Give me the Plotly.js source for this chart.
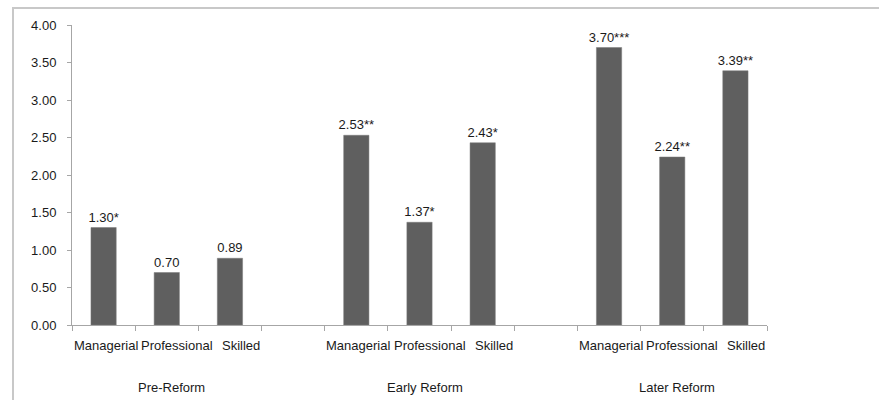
<!DOCTYPE html>
<html>
<head>
<meta charset="utf-8">
<script src="https://cdn.plot.ly/plotly-3.0.1.min.js"></script>
<style>
html,body{margin:0;padding:0;background:#fff;}
#wrap{position:relative;width:879px;height:400px;overflow:hidden;}
#chart{position:absolute;left:0;top:0;width:879px;height:400px;}
#frame{position:absolute;left:12px;top:7px;width:900px;height:420px;border-left:2px solid #c8c8c8;border-top:2px solid #c8c8c8;pointer-events:none;}
</style>
</head>
<body>
<div id="wrap"><div id="chart"></div><div id="frame"></div></div>
<script>
const groups = ["Pre-Reform", "Early Reform", "Later Reform"];
const categories = ["Managerial", "Professional", "Skilled"];
const preReform = [1.30, 0.70, 0.89];
const earlyReform = [2.53, 1.37, 2.43];
const laterReform = [3.70, 2.24, 3.39];
const significance = [["*", "", ""], ["**", "*", "*"], ["***", "**", "**"]];
const yTicks = [0, 0.5, 1, 1.5, 2, 2.5, 3, 3.5, 4];

const seriesByGroup = [preReform, earlyReform, laterReform];
const slotsPerGroup = categories.length + 1;
const nSlots = groups.length * slotsPerGroup - 1;

const xs = [], ys = [], texts = [];
seriesByGroup.forEach((vals, g) => {
  vals.forEach((v, c) => {
    xs.push(g * slotsPerGroup + c);
    ys.push(v);
    texts.push(v.toFixed(2) + significance[g][c]);
  });
});

const FONT = "Liberation Sans, Arial, sans-serif";
const catShift = [2, 10, 11];

const annotations = [];
groups.forEach((gName, g) => {
  categories.forEach((cName, c) => {
    annotations.push({
      x: g * slotsPerGroup + c, y: 0, xref: "x", yref: "paper",
      text: cName, showarrow: false, xanchor: "center", yanchor: "middle",
      yshift: -20, xshift: catShift[c],
      font: {family: FONT, size: 13, color: "#1a1a1a"}
    });
  });
  annotations.push({
    x: g * slotsPerGroup + (categories.length - 1) / 2, y: 0, xref: "x", yref: "paper",
    text: gName, showarrow: false, xanchor: "center", yanchor: "middle",
    yshift: -62, xshift: 5,
    font: {family: FONT, size: 13, color: "#1a1a1a"}
  });
});

const boundaries = [];
for (let i = 0; i <= nSlots; i++) boundaries.push(i - 0.5);

const trace = {
  type: "bar", x: xs, y: ys, text: texts,
  textposition: "outside", cliponaxis: false, constraintext: "none",
  textfont: {family: FONT, size: 13, color: "#1a1a1a"},
  marker: {color: "#5f5f5f", line: {color: "#7a7a7a", width: 0.5}},
  width: 0.4, hoverinfo: "none"
};

const layout = {
  width: 879, height: 400,
  margin: {l: 72, r: 112, t: 25, b: 75, pad: 0},
  paper_bgcolor: "#fff", plot_bgcolor: "#fff",
  showlegend: false,
  xaxis: {
    range: [-0.5, nSlots - 0.5], tickmode: "array", tickvals: boundaries,
    ticktext: boundaries.map(() => ""), ticks: "outside", ticklen: 5,
    tickcolor: "#a6a6a6", showline: true, linecolor: "#a6a6a6", linewidth: 1,
    showgrid: false, zeroline: false, fixedrange: true
  },
  yaxis: {
    range: [0, 4], tickmode: "array", tickvals: yTicks,
    ticktext: yTicks.map(v => v.toFixed(2)),
    ticks: "outside", ticklen: 4, tickcolor: "#a6a6a6",
    showline: true, linecolor: "#a6a6a6", linewidth: 1,
    showgrid: false, zeroline: false, ticklabelstandoff: 8,
    tickfont: {family: FONT, size: 13, color: "#1a1a1a"}, fixedrange: true
  },
  annotations: annotations
};

Plotly.newPlot("chart", [trace], layout, {displayModeBar: false, staticPlot: true});
</script>
</body>
</html>
